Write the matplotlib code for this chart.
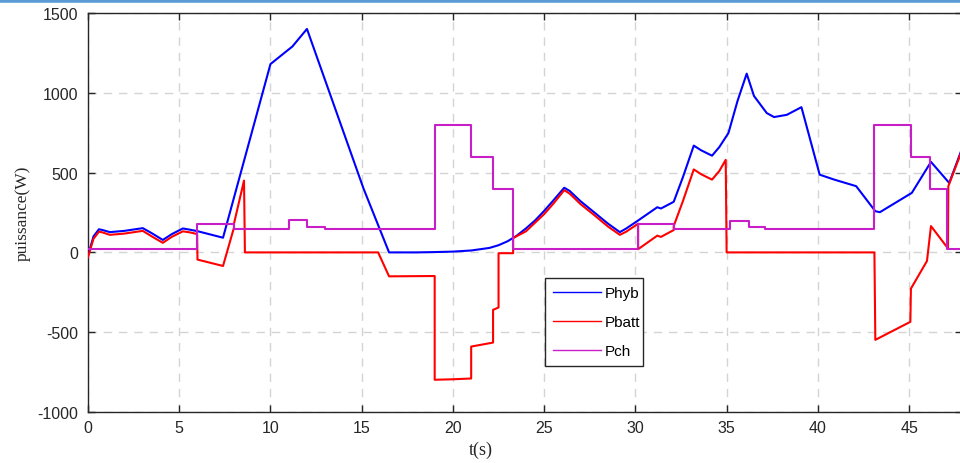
import matplotlib
matplotlib.use("Agg")
import matplotlib.pyplot as plt
from matplotlib.lines import Line2D

plt.rcParams["axes.unicode_minus"] = False

# Hybrid source power (W) versus time (s)
t_hyb = [0.0, 0.3, 0.6, 0.8, 1.2, 2.0, 3.0, 3.5, 4.1, 4.6, 5.2, 5.6, 6.0, 7.4,
         10.0, 11.2, 12.0, 15.1, 16.5, 18.0, 19.0, 20.0, 21.0, 22.0, 22.5,
         23.0, 23.5, 24.0, 24.5, 25.0, 25.5, 26.1, 26.4, 27.0, 27.7, 28.5,
         29.15, 29.5, 30.15, 31.2, 31.4, 32.1, 32.6, 33.2, 33.6, 34.2, 34.6,
         35.1, 35.6, 36.1, 36.5, 37.2, 37.6, 38.3, 39.1, 40.1, 40.9, 42.1,
         43.15, 43.4, 45.15, 46.2, 47.2, 47.9]
p_hyb = [-20, 100, 145, 140, 127, 135, 152, 120, 78, 115, 150, 142, 133, 92,
         1180, 1290, 1400, 400, 0, 0, 2, 5, 12, 28, 45,
         70, 105, 150, 200, 260, 325, 405, 385, 320, 255, 180,
         127, 150, 200, 283, 275, 317, 470, 669, 640, 606, 660,
         748, 950, 1120, 980, 873, 848, 862, 910, 487, 456, 415,
         258, 252, 373, 567, 435, 650]

# Battery power (W)
t_batt = [0.0, 0.3, 0.6, 0.8, 1.2, 2.0, 3.0, 3.5, 4.1, 4.6, 5.2, 5.6, 5.98,
          6.0, 7.4, 8.0, 8.0, 8.55, 8.6, 15.9, 16.5, 19.0, 19.0, 20.0, 21.0,
          21.0, 22.2, 22.2, 22.5, 22.5, 23.3, 23.3, 24.0, 25.0, 25.5, 26.1,
          26.4, 27.0, 27.7, 28.5, 29.15, 29.5, 30.15, 30.15, 31.2, 31.4, 32.1,
          32.1, 32.6, 33.2, 33.6, 34.2, 34.6, 34.95, 35.0, 43.1, 43.15, 45.07,
          45.1, 45.98, 46.2, 47.13, 47.15, 47.9]
p_batt = [-30, 85, 130, 125, 110, 118, 135, 100, 60, 98, 132, 125, 115,
          -45, -85, 155, 180, 450, 0, 0, -150, -148, -798, -795, -790,
          -590, -565, -360, -345, -5, -5, 90, 132, 240, 305, 390,
          368, 302, 238, 162, 110, 130, 180, 20, 105, 97, 140,
          165, 320, 520, 490, 456, 510, 580, 0, 0, -548, -435,
          -227, -54, 165, 25, 415, 640]

# Load power (W), piecewise constant
t_ch = [0.0, 6.0, 8.0, 11.0, 12.0, 13.0, 19.0, 21.0, 22.2, 23.3, 30.15,
        32.1, 35.2, 36.2, 37.1, 43.1, 45.1, 46.15, 47.1, 47.9]
p_ch = [20, 175, 148, 200, 160, 148, 800, 598, 395, 20, 175,
        148, 198, 160, 148, 800, 598, 400, 20, 20]

x_ticks = [0, 5, 10, 15, 20, 25, 30, 35, 40, 45]
y_ticks = [-1000, -500, 0, 500, 1000, 1500]

fig = plt.figure(figsize=(9.6, 4.64), dpi=100)
fig.patch.set_facecolor("white")
ax = fig.add_axes([88 / 960, 1 - 413 / 464, 874 / 960, 399 / 464])

lw = 1.5
ax.plot(t_hyb, p_hyb, color="#0000ff", lw=lw, label="Phyb", zorder=3)
ax.plot(t_batt, p_batt, color="#ff0000", lw=lw, label="Pbatt", zorder=3)
ax.plot(t_ch, p_ch, color="#c81ec8", lw=lw, label="Pch", drawstyle="steps-post",
        zorder=4)

ax.set_xlim(0, 47.9)
ax.set_ylim(-1000, 1500)
ax.set_xticks(x_ticks)
ax.set_yticks(y_ticks)

ax.grid(True, color="#d4d4d4", linestyle=(0, (6, 5)), linewidth=1.0)
ax.set_axisbelow(True)

for side in ("left", "bottom", "top", "right"):
    ax.spines[side].set_color("#262626")
    ax.spines[side].set_linewidth(1.0)

ax.tick_params(direction="in", top=True, right=True, length=5,
               width=1.0, colors="#262626", labelsize=11.5)
ax.tick_params(axis="y", pad=7)
ax.tick_params(axis="x", pad=6)
for lbl in ax.get_xticklabels() + ax.get_yticklabels():
    lbl.set_fontfamily("Liberation Sans")

ax.set_xlabel("t(s)", fontfamily="Liberation Serif", fontsize=13,
              color="#262626")
ax.set_ylabel("puissance(W)", fontfamily="Liberation Serif", fontsize=12.5,
              color="#262626")
ax.xaxis.set_label_coords(0.449, -0.073)
ax.yaxis.set_label_coords(-0.066, 0.5)

leg = ax.legend(loc="lower left", bbox_to_anchor=(0.523, 0.115, 0.112, 0.2256),
                mode="expand", borderaxespad=0, fancybox=False,
                framealpha=1, edgecolor="#262626", handlelength=3.15,
                handletextpad=0.25, labelspacing=1.0, borderpad=0.5,
                prop={"family": "Liberation Sans", "size": 11})
leg.get_frame().set_linewidth(1.0)
for h in leg.get_lines():
    h.set_linewidth(1.0)

# thin blue rule along the top edge of the figure
fig.add_artist(Line2D([0, 1], [1 - 1.5 / 464, 1 - 1.5 / 464],
                      transform=fig.transFigure, color="#5b9bd5", lw=2.6))

fig.savefig("out.png", dpi=100, facecolor="white")
